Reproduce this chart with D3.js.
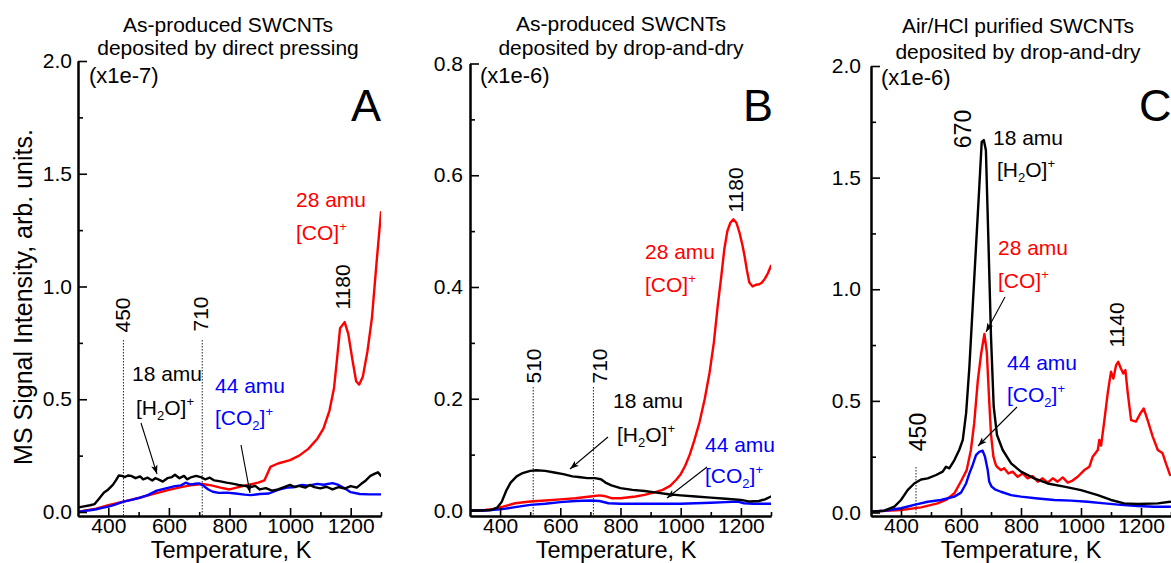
<!DOCTYPE html>
<html><head><meta charset="utf-8">
<script src="https://cdn.jsdelivr.net/npm/d3@7"></script>
<style>
body{margin:0;background:#fff;}
svg text{font-family:"Liberation Sans",Arial,sans-serif;}
</style></head><body>
<svg id="chart" width="1171" height="563"></svg>
<script>
// ---------- data: temperature (K) vs. MS signal ----------
const tempTicks = [400, 600, 800, 1000, 1200];
const tempMinorTicks = [500, 700, 900, 1100, 1300];
const yTicksA = [0.0, 0.5, 1.0, 1.5, 2.0];
const yMinorA = [0.25, 0.75, 1.25, 1.75];
const yTicksB = [0.0, 0.2, 0.4, 0.6, 0.8];
const yMinorB = [0.1, 0.3, 0.5, 0.7];
const yTicksC = [0.0, 0.5, 1.0, 1.5, 2.0];
const yMinorC = [0.25, 0.75, 1.25, 1.75];

// Panel A (x1e-7): as-produced, direct pressing
const aWater = [[300,0.02],[320,0.025],[340,0.03],[355,0.035],[370,0.06],[385,0.085],[400,0.10],[415,0.12],[425,0.14],[435,0.162],[445,0.16],[455,0.155],[465,0.162],[475,0.16],[490,0.15],[505,0.158],[515,0.145],[530,0.152],[545,0.14],[555,0.15],[565,0.145],[580,0.135],[595,0.15],[610,0.155],[620,0.165],[635,0.15],[650,0.16],[660,0.145],[675,0.155],[690,0.16],[705,0.155],[720,0.145],[735,0.152],[750,0.14],[770,0.136],[790,0.13],[810,0.126],[830,0.12],[850,0.116],[870,0.11],[885,0.116],[900,0.1],[920,0.106],[940,0.095],[960,0.1],[980,0.11],[1000,0.12],[1015,0.11],[1030,0.116],[1050,0.108],[1065,0.12],[1080,0.11],[1100,0.105],[1120,0.112],[1140,0.1],[1160,0.11],[1180,0.104],[1200,0.115],[1220,0.108],[1235,0.125],[1250,0.14],[1265,0.16],[1280,0.17],[1290,0.176],[1300,0.16]];
const aCO = [[300,0.0],[330,0.008],[360,0.015],[400,0.03],[450,0.046],[500,0.062],[550,0.08],[600,0.098],[640,0.11],[680,0.12],[710,0.124],[740,0.118],[770,0.108],[800,0.1],[830,0.11],[860,0.12],[895,0.13],[915,0.14],[925,0.17],[935,0.2],[960,0.215],[1000,0.23],[1030,0.25],[1060,0.28],[1090,0.325],[1110,0.37],[1130,0.45],[1145,0.55],[1155,0.68],[1165,0.815],[1180,0.842],[1192,0.79],[1205,0.68],[1218,0.58],[1228,0.565],[1240,0.6],[1255,0.71],[1270,0.86],[1285,1.1],[1300,1.33]];
const aCO2 = [[300,0.0],[320,0.005],[340,0.008],[360,0.012],[380,0.018],[400,0.024],[420,0.032],[450,0.046],[480,0.055],[500,0.062],[530,0.075],[560,0.095],[590,0.105],[620,0.115],[640,0.118],[655,0.13],[670,0.122],[685,0.125],[700,0.127],[715,0.115],[730,0.1],[745,0.09],[765,0.085],[790,0.086],[820,0.082],[850,0.077],[870,0.075],[900,0.08],[930,0.082],[960,0.098],[990,0.108],[1010,0.11],[1040,0.12],[1060,0.117],[1090,0.125],[1110,0.121],[1140,0.128],[1160,0.12],[1180,0.105],[1200,0.088],[1230,0.08],[1260,0.078],[1300,0.078]];

// Panel B (x1e-6): as-produced, drop-and-dry
const bWater = [[300,0.0],[340,0.0],[370,0.001],[390,0.005],[405,0.015],[420,0.035],[435,0.05],[455,0.061],[475,0.067],[500,0.071],[520,0.072],[550,0.071],[580,0.068],[610,0.065],[640,0.061],[660,0.06],[690,0.058],[715,0.058],[735,0.056],[750,0.05],[770,0.045],[800,0.04],[840,0.037],[880,0.035],[920,0.032],[960,0.029],[1000,0.027],[1050,0.025],[1100,0.023],[1150,0.021],[1200,0.019],[1230,0.016],[1260,0.017],[1280,0.02],[1300,0.025]];
const bCO = [[300,0.0],[350,0.001],[380,0.003],[410,0.007],[450,0.013],[500,0.016],[550,0.018],[600,0.02],[650,0.022],[700,0.025],[730,0.027],[745,0.026],[770,0.022],[800,0.022],[850,0.025],[880,0.028],[910,0.032],[940,0.037],[965,0.044],[985,0.055],[1000,0.065],[1015,0.08],[1030,0.1],[1045,0.125],[1062,0.157],[1080,0.2],[1096,0.247],[1110,0.3],[1123,0.366],[1135,0.42],[1145,0.468],[1155,0.5],[1165,0.515],[1175,0.521],[1185,0.515],[1195,0.498],[1205,0.475],[1212,0.456],[1220,0.43],[1228,0.408],[1239,0.401],[1250,0.404],[1261,0.405],[1270,0.408],[1280,0.415],[1290,0.425],[1300,0.438]];
const bCO2 = [[300,0.0],[350,0.0],[400,0.002],[450,0.006],[500,0.01],[550,0.012],[600,0.015],[650,0.017],[700,0.018],[730,0.017],[760,0.013],[800,0.012],[900,0.012],[1000,0.012],[1100,0.014],[1150,0.015],[1190,0.016],[1210,0.013],[1240,0.012],[1300,0.012]];

// Panel C (x1e-6): Air/HCl purified, drop-and-dry
const cWater = [[300,0.004],[344,0.008],[378,0.026],[400,0.056],[422,0.1],[444,0.13],[467,0.148],[489,0.153],[517,0.168],[539,0.183],[550,0.205],[561,0.198],[578,0.235],[594,0.28],[606,0.325],[617,0.444],[628,0.653],[639,0.922],[650,1.19],[661,1.459],[669,1.66],[676,1.668],[683,1.623],[691,1.235],[700,0.787],[709,0.474],[720,0.347],[739,0.28],[767,0.22],[800,0.183],[844,0.153],[889,0.13],[944,0.116],[1000,0.1],[1056,0.078],[1100,0.056],[1144,0.041],[1189,0.038],[1256,0.041],[1297,0.048]];
const cCO = [[300,0.004],[400,0.011],[467,0.023],[522,0.041],[550,0.056],[578,0.086],[600,0.14],[619,0.19],[633,0.28],[644,0.40],[656,0.59],[667,0.71],[678,0.80],[686,0.72],[694,0.50],[700,0.35],[708,0.25],[716,0.213],[720,0.205],[733,0.19],[744,0.198],[758,0.175],[772,0.183],[789,0.16],[806,0.175],[822,0.153],[839,0.163],[856,0.138],[872,0.153],[889,0.134],[906,0.153],[922,0.138],[939,0.157],[956,0.134],[972,0.143],[989,0.16],[1011,0.19],[1028,0.205],[1039,0.25],[1056,0.28],[1061,0.325],[1067,0.30],[1078,0.414],[1089,0.534],[1100,0.631],[1108,0.60],[1117,0.66],[1124,0.675],[1133,0.645],[1141,0.623],[1148,0.638],[1156,0.534],[1167,0.414],[1183,0.407],[1198,0.444],[1209,0.466],[1222,0.414],[1239,0.34],[1256,0.28],[1272,0.265],[1283,0.22],[1297,0.168]];
const cCO2 = [[300,0.004],[344,0.008],[400,0.019],[444,0.034],[489,0.048],[533,0.056],[578,0.071],[600,0.089],[617,0.13],[628,0.175],[639,0.213],[650,0.257],[661,0.272],[672,0.277],[680,0.25],[689,0.19],[694,0.138],[702,0.116],[713,0.104],[733,0.093],[767,0.078],[800,0.071],[856,0.063],[911,0.056],[967,0.053],[1022,0.048],[1078,0.041],[1133,0.034],[1189,0.029],[1244,0.026],[1297,0.026]];

// ---------- layout ----------
const W = 1171, H = 563, axisBottomY = 516;
const RED = "#ff0000", BLUE = "#0000ff", BLACK = "#000000";

const panels = [
  { left: 78, right: 381, top: 61, zero: 512, yMax: 2.0, yTicks: yTicksA, yMinor: yMinorA, labelGap: 6,
    series: [[aCO, RED], [aCO2, BLUE], [aWater, BLACK]],
    title: ["As-produced SWCNTs", "deposited by direct pressing"], titleX: 228, titleY: [32, 55],
    scaleNote: "(x1e-7)", noteX: 89, noteY: 83, letter: "A", letterX: 351, xLabelX: 231,
    markers: [{t: 450, top: 340, lx: 130, ly: 315, size: 21}, {t: 710, top: 340, lx: 208, ly: 314, size: 21}],
    peaks: [{text: "1180", lx: 350, ly: 287, size: 21}] },
  { left: 470, right: 771, top: 63.5, zero: 510.5, yMax: 0.8, yTicks: yTicksB, yMinor: yMinorB, labelGap: 7,
    series: [[bCO, RED], [bCO2, BLUE], [bWater, BLACK]],
    title: ["As-produced SWCNTs", "deposited by drop-and-dry"], titleX: 621, titleY: [31, 55],
    scaleNote: "(x1e-6)", noteX: 480, noteY: 83, letter: "B", letterX: 743, xLabelX: 616,
    markers: [{t: 510, top: 387, lx: 541, ly: 366, size: 21}, {t: 710, top: 387, lx: 607, ly: 366, size: 21}],
    peaks: [{text: "1180", lx: 743, ly: 190, size: 21}] },
  { left: 871, right: 1171, top: 66, zero: 512.5, yMax: 2.0, yTicks: yTicksC, yMinor: yMinorC, labelGap: 10,
    series: [[cCO, RED], [cCO2, BLUE], [cWater, BLACK]],
    title: ["Air/HCl purified SWCNTs", "deposited by drop-and-dry"], titleX: 1018, titleY: [33, 59],
    scaleNote: "(x1e-6)", noteX: 881, noteY: 85, letter: "C", letterX: 1139, xLabelX: 1021,
    markers: [{t: 450, top: 467, lx: 926, ly: 432, size: 23}],
    peaks: [{text: "670", lx: 971, ly: 129, size: 23}, {text: "1140", lx: 1124, ly: 325, size: 21}] }
];

// species annotations: label lines, colour, position, arrow
const notes = [
  [0, "co",  RED,   296, 207, 240, null],
  [0, "h2o", BLACK, 132, 381, 415, [141, 423, 157, 474]],
  [0, "co2", BLUE,  215, 393, 425, [241, 445, 250, 493]],
  [1, "co",  RED,   645, 259, 292, null],
  [1, "h2o", BLACK, 613, 408, 442, [608, 437, 570, 469]],
  [1, "co2", BLUE,  705, 452, 483, [707, 467, 667, 498]],
  [2, "h2o", BLACK, 993, 145, 177, null],
  [2, "co",  RED,   998, 255, 288, [1005, 297, 986, 332]],
  [2, "co2", BLUE,  1007, 370, 402, [1017, 407, 978, 446]]
];

const svg = d3.select("#chart");
svg.append("rect").attr("width", W).attr("height", H).attr("fill", "#fff");

const defs = svg.append("defs");
defs.append("marker").attr("id", "arrowHead")
  .attr("viewBox", "0 -5 10 10").attr("refX", 10).attr("refY", 0)
  .attr("markerWidth", 9).attr("markerHeight", 9).attr("markerUnits", "userSpaceOnUse")
  .attr("orient", "auto")
  .append("path").attr("d", "M0,-3.6L10,0L0,3.6L2.5,0Z").attr("fill", BLACK);

panels.forEach((p, i) => {
  const x = d3.scaleLinear().domain([300, 1300]).range([p.left, p.right]);
  const y0 = d3.scaleLinear().domain([0, p.yMax]).range([p.zero, p.top]);
  const y = d3.scaleLinear().domain([y0.invert(axisBottomY), p.yMax]).range([axisBottomY, p.top]);
  const g = svg.append("g");

  defs.append("clipPath").attr("id", "clip" + i)
    .append("rect").attr("x", p.left).attr("y", p.top - 5)
    .attr("width", p.right - p.left).attr("height", axisBottomY - p.top + 5);

  // dotted reference lines at the marked temperatures
  p.markers.forEach(m => {
    g.append("line").attr("x1", x(m.t)).attr("x2", x(m.t))
      .attr("y1", m.top).attr("y2", axisBottomY)
      .attr("stroke", "#222").attr("stroke-width", 1).attr("stroke-dasharray", "1.5,1.5");
    g.append("text").attr("transform", `translate(${m.lx},${m.ly}) rotate(-90)`)
      .attr("text-anchor", "middle").attr("font-size", m.size).text(m.t);
  });
  p.peaks.forEach(k => {
    g.append("text").attr("transform", `translate(${k.lx},${k.ly}) rotate(-90)`)
      .attr("text-anchor", "middle").attr("font-size", k.size).text(k.text);
  });

  // signal curves
  const line = d3.line().x(d => x(d[0])).y(d => y(d[1])).curve(d3.curveLinear);
  const curves = g.append("g").attr("clip-path", `url(#clip${i})`);
  p.series.forEach(([data, color]) => {
    curves.append("path").datum(data).attr("d", line)
      .attr("fill", "none").attr("stroke", color).attr("stroke-width", 2.4)
      .attr("stroke-linejoin", "round").attr("stroke-linecap", "round");
  });

  // axes with inward ticks
  const xMajor = g.append("g").attr("transform", `translate(0,${axisBottomY})`)
    .call(d3.axisBottom(x).tickValues(tempTicks).tickSizeInner(-8).tickSizeOuter(0)
      .tickPadding(4).tickFormat(d3.format("d")));
  const xMinor = g.append("g").attr("transform", `translate(0,${axisBottomY})`)
    .call(d3.axisBottom(x).tickValues(tempMinorTicks).tickSizeInner(-4).tickSizeOuter(0).tickFormat(""));
  const yMajor = g.append("g").attr("transform", `translate(${p.left},0)`)
    .call(d3.axisLeft(y).tickValues(p.yTicks).tickSizeInner(-9).tickSizeOuter(0)
      .tickPadding(p.labelGap).tickFormat(d3.format(".1f")));
  const yMinor = g.append("g").attr("transform", `translate(${p.left},0)`)
    .call(d3.axisLeft(y).tickValues(p.yMinor).tickSizeInner(-5).tickSizeOuter(0).tickFormat(""));
  [xMajor, xMinor, yMajor, yMinor].forEach(a => {
    a.attr("font-family", null).attr("font-size", null);
    a.select(".domain").attr("stroke", BLACK).attr("stroke-width", 2);
    a.selectAll(".tick line").attr("stroke", BLACK).attr("stroke-width", 1.6);
    a.selectAll(".tick text").attr("font-size", 21).attr("fill", BLACK);
  });
  xMajor.selectAll(".tick text").attr("dy", "0.6em");

  // titles, scale note, panel letter, axis title
  p.title.forEach((t, k) => {
    g.append("text").attr("x", p.titleX).attr("y", p.titleY[k]).attr("text-anchor", "middle")
      .attr("font-size", 21).text(t);
  });
  g.append("text").attr("x", p.noteX).attr("y", p.noteY).attr("font-size", 22).text(p.scaleNote);
  g.append("text").attr("x", p.letterX).attr("y", 121).attr("font-size", 45).text(p.letter);
  g.append("text").attr("x", p.xLabelX).attr("y", 558).attr("text-anchor", "middle")
    .attr("font-size", 23.5).text("Temperature, K");
});

svg.append("text").attr("transform", "translate(32,297) rotate(-90)")
  .attr("text-anchor", "middle").attr("font-size", 25).text("MS Signal Intensity, arb. units.");

// species labels
function speciesLabel(x, y1, y2, kind, color) {
  const mass = kind === "co" ? "28 amu" : kind === "h2o" ? "18 amu" : "44 amu";
  svg.append("text").attr("x", x).attr("y", y1).attr("font-size", 21).attr("fill", color).text(mass);
  const t = svg.append("text").attr("x", kind === "h2o" ? x + 4 : x).attr("y", y2)
    .attr("font-size", 21).attr("fill", color);
  if (kind === "co") {
    t.append("tspan").text("[CO]");
  } else if (kind === "h2o") {
    t.append("tspan").text("[H");
    t.append("tspan").attr("font-size", 13).attr("dy", 5).text("2");
    t.append("tspan").attr("dy", -5).text("O]");
  } else {
    t.append("tspan").text("[CO");
    t.append("tspan").attr("font-size", 13).attr("dy", 5).text("2");
    t.append("tspan").attr("dy", -5).text("]");
  }
  t.append("tspan").attr("font-size", 13).attr("dy", -9).text("+");
}

notes.forEach(([pi, kind, color, x, y1, y2, arrow]) => {
  speciesLabel(x, y1, y2, kind, color);
  if (arrow) {
    svg.append("line").attr("x1", arrow[0]).attr("y1", arrow[1]).attr("x2", arrow[2]).attr("y2", arrow[3])
      .attr("stroke", BLACK).attr("stroke-width", 1.1).attr("marker-end", "url(#arrowHead)");
  }
});
</script>
</body></html>
